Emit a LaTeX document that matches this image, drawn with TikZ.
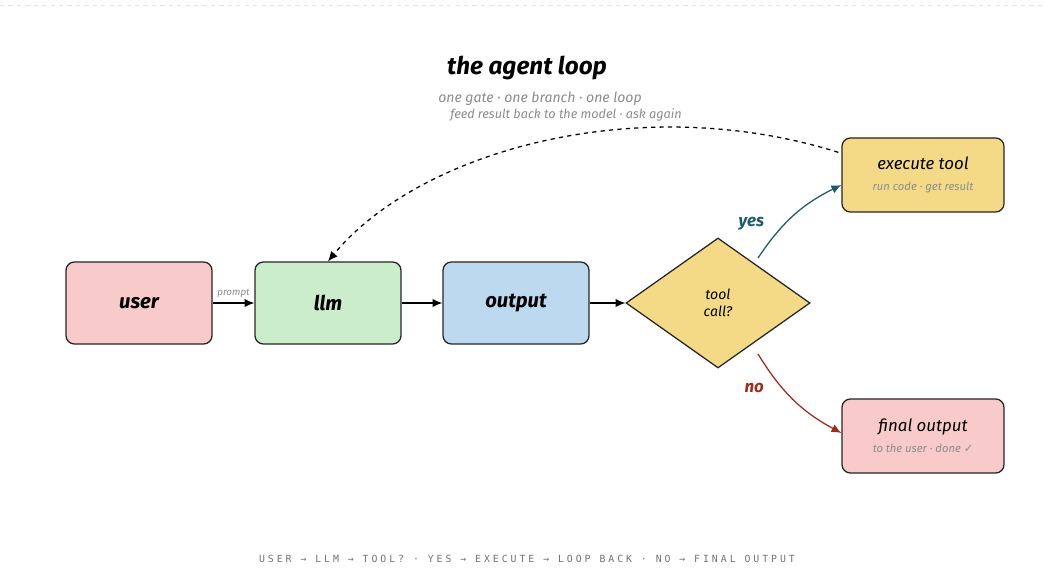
\documentclass[tikz,border=0pt]{standalone}
\usepackage{fontspec}
\setmainfont{Fira Sans}
\newfontfamily\monofam[LetterSpace=30]{DejaVu Sans Mono}
\newfontfamily\symfam{DejaVu Sans}
\usetikzlibrary{shapes.geometric,arrows.meta}
\definecolor{userpink}{HTML}{F8CACA}
\definecolor{llmgreen}{HTML}{CBEDCB}
\definecolor{outblue}{HTML}{BDD9F0}
\definecolor{toolyel}{HTML}{F4DA86}
\definecolor{yesteal}{HTML}{1F5A6B}
\definecolor{nored}{HTML}{9B2C1F}
\tikzset{>={Latex[length=7pt,width=6pt]}}
\tikzstyle{box}=[draw=black!85,line width=0.9pt,rounded corners=6pt,minimum width=3.65cm,minimum height=2.05cm,font=\Large\bfseries\itshape]
\tikzstyle{side}=[draw=black!85,line width=0.9pt,rounded corners=6pt,minimum width=4.05cm,minimum height=1.85cm,align=center]
\tikzstyle{sub}=[text=black!45,font=\scriptsize\itshape]

\begin{document}
\begin{tikzpicture}[x=0.025cm,y=-0.025cm]
  \useasboundingbox (0,0) rectangle (1046,584);
  \fill[white] (0,0) rectangle (1046,584);
  \draw[black!10,dashed] (0,5) -- (1046,5);
  % Title
  \node (title) at (527,68) {\LARGE\bfseries\itshape the agent loop};
  \node[sub,font=\normalsize\itshape] (subtitle) at (540,99) {one gate · one branch · one loop};
  % Main row
  \node[box,fill=userpink] (user) at (139,303) {user};
  \node[box,fill=llmgreen] (llm) at (328,303) {llm};
  \node[box,fill=outblue] (output) at (516,303) {output};
  \node[diamond,draw=black!85,line width=0.9pt,fill=toolyel,minimum width=4.6cm,minimum height=3.25cm,align=center,font=\itshape] (tool) at (718,303) {tool\\call?};
  % Branches
  \node[side,fill=toolyel] (exec) at (923,175) {{\large\itshape execute tool}\\[3pt]{\footnotesize\color{black!45}\itshape run code · get result}};
  \node[side,fill=userpink] (final) at (923,436) {{\large\itshape final output}\\[3pt]{\footnotesize\color{black!45}\itshape to the user · done {\symfam ✓}}};
  \draw[->,line width=0.9pt] (user) -- node[above,sub,font=\scriptsize\itshape] (prompt) {prompt} (llm);
  \draw[->,line width=0.9pt] (llm) -- (output);
  \draw[->,line width=0.9pt] (output) -- (tool);
  \coordinate (yesfrom) at (758,258);
  \coordinate (nofrom) at (758,354);
  \draw[->,yesteal,line width=0.9pt] (yesfrom) to[bend left=15] node[pos=0.2,above left=2pt,font=\large\bfseries\itshape] (yes) {yes} (exec.west|-0,185);
  \draw[->,nored,line width=0.9pt] (nofrom) to[bend right=15] node[pos=0.2,below left=2pt,font=\large\bfseries\itshape] (no) {no} (final.west|-0,433);
  % Loop back
  \draw[->,dashed,line width=0.9pt] (exec.north west) ++(-3,15) coordinate (back) (back) .. controls (640,90) and (420,150) .. (llm.north);
  \node[sub,font=\small\itshape] (feed) at (566,115) {feed result back to the model · ask again};
  % Footer
  \node[text=black!55,font=\monofam\scriptsize] (footer) at (527,559) {USER → LLM → TOOL? · YES → EXECUTE → LOOP BACK · NO → FINAL OUTPUT};
\end{tikzpicture}
\end{document}
